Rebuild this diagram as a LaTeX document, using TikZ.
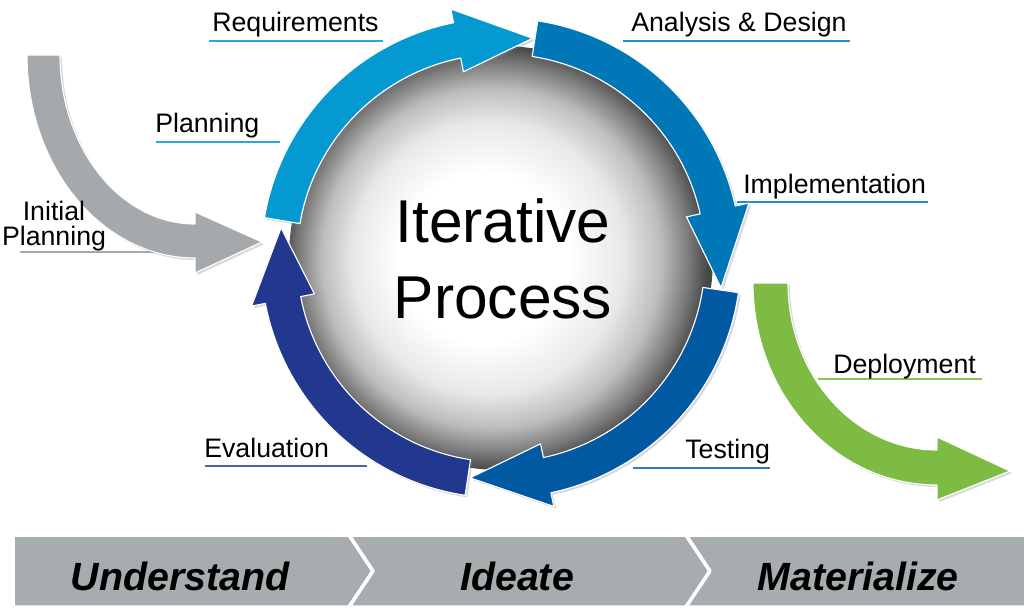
\documentclass[tikz,border=0pt]{standalone}
\usepackage{fontspec}
\setmainfont{Liberation Sans}
\usetikzlibrary{shadows}
\definecolor{reqblue}{HTML}{0599D2}
\definecolor{anablue}{HTML}{0078B8}
\definecolor{tesblue}{HTML}{0059A1}
\definecolor{evanavy}{HTML}{22378E}
\definecolor{initgray}{HTML}{A5A9AC}
\definecolor{depgreen}{HTML}{7DBB42}
\definecolor{bargray}{HTML}{A7ACAF}
\pgfdeclareradialshading{globe}{\pgfpoint{-3bp}{0bp}}{color(0bp)=(white); color(10bp)=(white); color(16bp)=(black!9); color(20bp)=(black!26); color(23bp)=(black!52); color(25bp)=(black!72); color(32bp)=(black!72)}
% arrow on the ring: colour, tail angle, head base angle, tip angle
\newcommand{\ringarrow}[4]{%
  \path[ring, fill=#1] (#2:240) arc[start angle=#2, end angle=#3, radius=240]
    -- (#3:254) -- (#4:222) -- (#3:190) -- (#3:204)
    arc[start angle=#3, end angle=#2, radius=204] -- cycle;}
\begin{document}
\begin{tikzpicture}[x=0.025cm, y=0.025cm, line join=round,
    lbl/.style={anchor=base west, inner sep=0pt, font=\fontsize{19}{22}\selectfont},
    lead/.style={line width=1.2pt},
    ring/.style={draw=white, line width=0.8pt, drop shadow={opacity=.3, shadow xshift=1.5pt, shadow yshift=-1.5pt}},
    phase/.style={fill=bargray, draw=white, line width=2.5pt},
    phasetxt/.style={anchor=base, font=\fontsize{28}{30}\selectfont\bfseries\itshape}]
\useasboundingbox (0,0) rectangle (1024,608);

% leader lines under the labels
\draw[lead, reqblue!85] (209,567) -- (383,567);
\draw[lead, reqblue!85] (156,466) -- (280,466);
\draw[lead, initgray] (20,356) -- (165,356);
\draw[lead, anablue!85] (623,567) -- (850,567);
\draw[lead, anablue!85] (737,406) -- (928,406);
\draw[lead, depgreen!90] (818,229) -- (982,229);
\draw[lead, tesblue!80] (633,140) -- (770,140);
\draw[lead, evanavy!80] (205,142) -- (367,142);

% the globe and the four arrows round it
\begin{scope}[shift={(501,350)}]
  \shade[shading=globe] (0,0) circle[radius=212];
  \ringarrow{reqblue}{170.3}{101.4}{81.8}
  \ringarrow{anablue}{81.2}{12.5}{-7.7}
  \ringarrow{tesblue}{-8.3}{-78}{-98}
  \ringarrow{evanavy}{261.4}{190.9}{172.2}
\end{scope}

% way in and way out
\path[ring, fill=initgray] (27,553) arc[start angle=180, end angle=270, x radius=168, y radius=203]
  -- (195,335) -- (262,366) -- (195,396) -- (195,384)
  arc[start angle=270, end angle=180, x radius=135, y radius=169] -- cycle;
\path[ring, fill=depgreen] (753,325) arc[start angle=180, end angle=270, x radius=184, y radius=202]
  -- (937,108) -- (1010,137) -- (937,171) -- (937,158)
  arc[start angle=270, end angle=180, x radius=149, y radius=167] -- cycle;

\node[font=\fontsize{43}{54}\selectfont, align=center] (core) at (503,349) {Iterative\\Process};

\node[lbl] (req) at (212,576) {Requirements};
\node[lbl] (plan) at (155,476) {Planning};
\node[inner sep=0pt, align=center, font=\fontsize{19}{18}\selectfont] (init) at (54,382) {Initial\\Planning};
\node[lbl] (ana) at (631,576) {Analysis \& Design};
\node[lbl] (impl) at (743,415) {Implementation};
\node[lbl] (dep) at (833,235) {Deployment};
\node[lbl] (test) at (685,150) {Testing};
\node[lbl] (eval) at (204,151) {Evaluation};

% phases bar
\path[phase] (13,1) -- (13,73) -- (349,73) -- (373,37) -- (349,1) -- cycle;
\path[phase] (349,73) -- (686,73) -- (710,37) -- (686,1) -- (349,1) -- (373,37) -- cycle;
\path[phase] (686,73) -- (1040,73) -- (1040,1) -- (686,1) -- (710,37) -- cycle;
\node[phasetxt] (und) at (180,18) {Understand};
\node[phasetxt] (ide) at (517,18) {Ideate};
\node[phasetxt] (mat) at (858,18) {Materialize};
\end{tikzpicture}
\end{document}
